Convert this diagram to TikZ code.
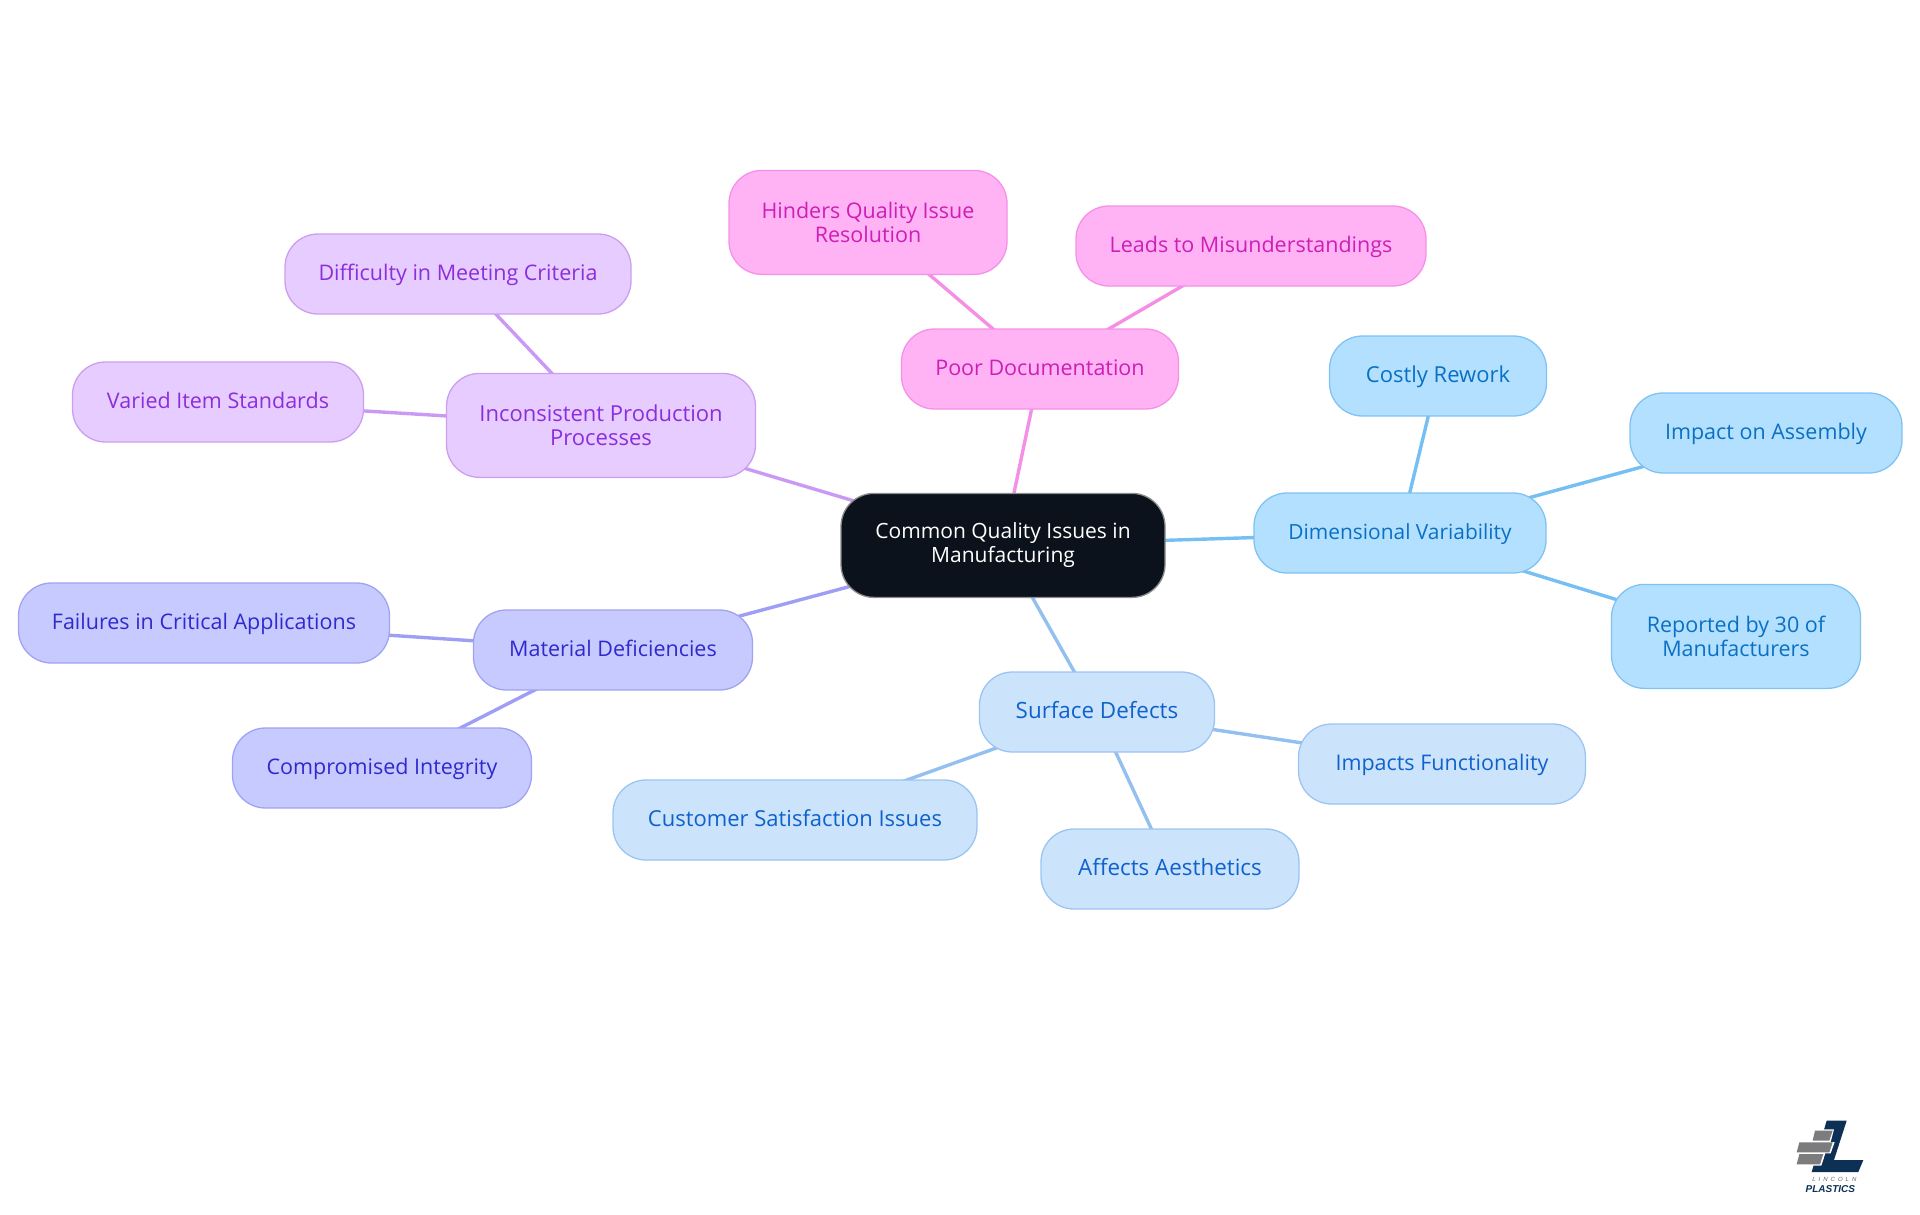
\documentclass[tikz,border=0pt]{standalone}
\usepackage{fontspec}
\setmainfont{Open Sans}
\newfontfamily\logofont{Liberation Sans}
\usetikzlibrary{backgrounds}
\definecolor{bfill}{HTML}{B3E0FF}\definecolor{bline}{HTML}{80C2F2}\definecolor{btext}{HTML}{0A70C4}\definecolor{bedge}{HTML}{75BFF2}
\definecolor{sfill}{HTML}{CCE3FC}\definecolor{sline}{HTML}{9CC4F2}\definecolor{stext}{HTML}{0F62CC}\definecolor{sedge}{HTML}{94C0F0}
\definecolor{mfill}{HTML}{C7CAFF}\definecolor{mline}{HTML}{A0A3F0}\definecolor{mtext}{HTML}{3029CC}\definecolor{medge}{HTML}{9E9EF5}
\definecolor{ifill}{HTML}{E6CCFF}\definecolor{iline}{HTML}{CC9EF0}\definecolor{itext}{HTML}{8C2EDB}\definecolor{iedge}{HTML}{C999F5}
\definecolor{pfill}{HTML}{FFB3F5}\definecolor{pline}{HTML}{F590E8}\definecolor{ptext}{HTML}{CC1FB5}\definecolor{pedge}{HTML}{F58FE6}
\definecolor{rootfill}{HTML}{0B121B}\definecolor{navy}{HTML}{0D3055}\definecolor{bargrey}{HTML}{7C7C7E}
\tikzset{
  x=1pt,y=-1pt,
  base/.style={rounded corners=33pt,inner sep=0pt,line width=1.3pt,align=center,
    font=\fontsize{21.5}{24}\selectfont},
  oneline/.style={text height=18pt,text depth=6pt,minimum height=80pt},
  twoline/.style={minimum height=104pt,yshift=-0.4pt},
  fs/.style={font=\fontsize{#1}{24}\selectfont},
  bluebox/.style={base,draw=bline,fill=bfill,text=btext},
  surfbox/.style={base,draw=sline,fill=sfill,text=stext},
  matbox/.style={base,draw=mline,fill=mfill,text=mtext},
  incbox/.style={base,draw=iline,fill=ifill,text=itext},
  poorbox/.style={base,draw=pline,fill=pfill,text=ptext},
  rootbox/.style={base,draw=black!45,fill=rootfill,text=white},
  link/.style={line width=3.4pt},
}
\begin{document}
\begin{tikzpicture}
\useasboundingbox (0,0) rectangle (1920,1215);
\node[rootbox,twoline,fs=21,minimum width=324pt] (root) at (1003,545) {Common Quality Issues in\\Manufacturing};
% poor documentation
\node[poorbox,oneline,minimum width=277pt] (poor) at (1040,369) {Poor Documentation};
\node[poorbox,twoline,minimum width=278pt] (hinders) at (868,222) {Hinders Quality Issue\\Resolution};
\node[poorbox,oneline,minimum width=350pt] (leads) at (1251,246) {Leads to Misunderstandings};
% inconsistent
\node[incbox,twoline,fs=22,minimum width=309pt] (incons) at (601,425) {Inconsistent Production\\Processes};
\node[incbox,oneline,minimum width=346pt] (diff) at (458,274) {Difficulty in Meeting Criteria};
\node[incbox,oneline,minimum width=291pt] (varied) at (218,402) {Varied Item Standards};
% material
\node[matbox,oneline,minimum width=279pt] (mat) at (613,650) {Material Deficiencies};
\node[matbox,oneline,minimum width=371pt] (fail) at (204,623) {Failures in Critical Applications};
\node[matbox,oneline,minimum width=299pt] (comp) at (382,768) {Compromised Integrity};
% surface
\node[surfbox,oneline,fs=22.4,minimum width=235pt] (surf) at (1097,712) {Surface Defects};
\node[surfbox,oneline,fs=22,minimum width=364pt] (cust) at (795,820) {Customer Satisfaction Issues};
\node[surfbox,oneline,fs=22.4,minimum width=258pt] (aest) at (1170,869) {Affects Aesthetics};
\node[surfbox,oneline,minimum width=287pt] (func) at (1442,764) {Impacts Functionality};
% dimensional
\node[bluebox,oneline,fs=20.9,minimum width=292pt] (dim) at (1400,533) {Dimensional Variability};
\node[bluebox,oneline,fs=22,minimum width=217pt] (cost) at (1438,376) {Costly Rework};
\node[bluebox,oneline,minimum width=272pt] (assem) at (1766,433) {Impact on Assembly};
\node[bluebox,twoline,minimum width=249pt] (rep) at (1736,636) {Reported by 30 of\\Manufacturers};
\begin{pgfonlayer}{background}
\draw[link,pedge] (root.center) -- (poor.center);
\draw[link,pedge] (poor.center) -- (hinders.center);
\draw[link,pedge] (poor.center) -- (leads.center);
\draw[link,iedge] (root.center) -- (incons.center);
\draw[link,iedge] (incons.center) -- (diff.center);
\draw[link,iedge] (incons.center) -- (varied.center);
\draw[link,medge] (root.center) -- (mat.center);
\draw[link,medge] (mat.center) -- (fail.center);
\draw[link,medge] (mat.center) -- (comp.center);
\draw[link,sedge] (root.center) -- (surf.center);
\draw[link,sedge] (surf.center) -- (cust.center);
\draw[link,sedge] (surf.center) -- (aest.center);
\draw[link,sedge] (surf.center) -- (func.center);
\draw[link,bedge] (root.center) -- (dim.center);
\draw[link,bedge] (dim.center) -- (cost.center);
\draw[link,bedge] (dim.center) -- (assem.center);
\draw[link,bedge] (dim.center) -- (rep.center);
\end{pgfonlayer}
% logo
\begin{scope}[shift={(1760,1100)},x=0.3333pt,y=-0.3333pt]
\fill[navy] (200,62) -- (260,62) -- (222,180) -- (310,180) -- (295,216) -- (155,216) -- cycle;
\fill[white] (160,88) -- (222,88) -- (212,126) -- (224,126) -- (212,160) -- (196,160) -- (184,197) -- (104,197) -- (114,158) -- (104,158) -- (114,124) -- (150,124) -- cycle;
\fill[bargrey] (165,92) -- (218,92) -- (208,122) -- (158,122) -- cycle;
\fill[bargrey] (118,127) -- (218,127) -- (208,157) -- (110,157) -- cycle;
\fill[bargrey] (118,162) -- (190,162) -- (180,193) -- (110,193) -- cycle;
\node[text=black!60,inner sep=0pt,font=\logofont\itshape\fontsize{6}{7}\selectfont] (lincoln) at (223,237) {L\,\,\,I\,\,\,N\,\,\,C\,\,\,O\,\,\,L\,\,\,N};
\node[text=navy,inner sep=0pt,font=\logofont\bfseries\itshape\fontsize{10}{12}\selectfont] (plastics) at (211,266) {PLASTICS};
\end{scope}
\end{tikzpicture}
\end{document}
